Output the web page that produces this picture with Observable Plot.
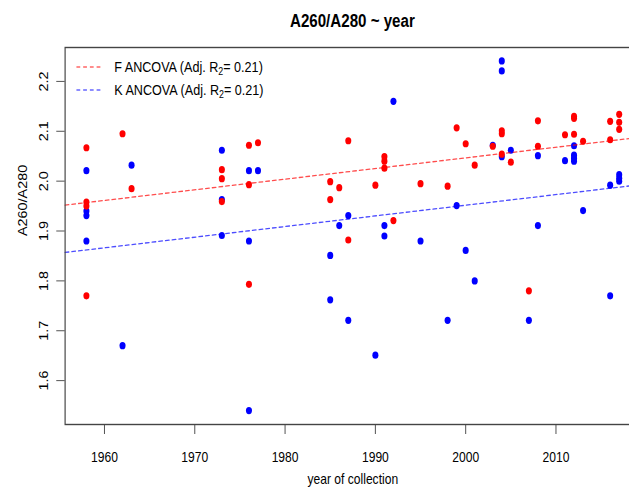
<!DOCTYPE html>
<html><head><meta charset="utf-8">
<script src="https://cdn.jsdelivr.net/npm/d3@7"></script>
<script src="https://cdn.jsdelivr.net/npm/@observablehq/plot@0.6"></script>
<style>
html,body{margin:0;padding:0;overflow:hidden;background:#fff;}
#wrap{position:relative;width:770px;height:493px;transform:scaleX(0.84);transform-origin:0 0;font-family:"Liberation Sans",Arial,Helvetica,sans-serif;color:#000;}
#title{position:absolute;top:10px;left:77px;width:685px;text-align:center;font-weight:bold;font-size:18px;line-height:22px;}
#legend{position:absolute;left:91px;top:56px;font-size:15px;}
.row{display:flex;align-items:center;height:22.7px;white-space:nowrap;}
.row svg{width:30px;height:4px;margin-right:15px;overflow:visible;}
#chart svg{max-width:none;}
</style>
</head><body>
<div id="wrap">
  <div id="chart"></div>
  <div id="title"></div>
  <div id="legend"></div>
</div>
<script>
const titleText = "A260/A280 ~ year";
const xLabel = "year of collection";
const yLabel = "A260/A280";
const xTicks = [1960, 1970, 1980, 1990, 2000, 2010];
const yTicks = [1.6, 1.7, 1.8, 1.9, 2.0, 2.1, 2.2];

// F series (red)
const fYears = [1958,1958,1958,1958,1962,1963,1973,1973,1973,1976,1976,1976,1977,1985,1985,1986,1987,1987,1990,1991,1991,1991,1992,1995,1998,1999,2000,2001,2003,2004,2004,2004,2005,2007,2008,2008,2011,2012,2012,2012,2013,2016,2016,2017,2017,2017];
const fValues = [2.067,1.958,1.950,1.770,2.095,1.985,2.023,2.005,1.959,2.072,1.993,1.793,2.077,1.999,1.963,1.987,2.081,1.882,1.992,2.049,2.040,2.026,1.921,1.995,1.990,2.107,2.075,2.032,2.070,2.101,2.095,2.054,2.038,1.780,2.121,2.070,2.093,2.130,2.126,2.094,2.080,2.120,2.083,2.134,2.118,2.104];

// K series (blue)
const kYears = [1958,1958,1958,1958,1962,1963,1973,1973,1973,1976,1976,1976,1977,1985,1985,1986,1987,1987,1990,1991,1991,1992,1995,1998,1999,2000,2001,2003,2004,2004,2004,2005,2007,2008,2008,2011,2012,2012,2012,2012,2013,2016,2016,2017,2017,2017];
const kValues = [2.021,1.940,1.931,1.880,1.670,2.032,2.062,1.963,1.891,2.021,1.880,1.540,2.021,1.851,1.762,1.911,1.931,1.721,1.651,1.911,1.890,2.160,1.880,1.721,1.951,1.861,1.800,2.072,2.241,2.221,2.049,2.062,1.721,2.051,1.911,2.041,2.071,2.052,2.046,2.040,1.941,1.992,1.770,2.013,2.006,2.000];

// ANCOVA fitted lines (values read at plot edges)
const lineYears = [1955.64, 2019.36];
const fLine = [1.952, 2.088];
const kLine = [1.857, 1.993];

const legendNames = ["F ANCOVA", "K ANCOVA"];
const legendR2 = ["0.21", "0.21"];
const seriesColors = ["#ff0000", "#0000ff"];

const xDomain = [1955.64, 2019.36];
const yDomain = [1.512, 2.268];

const fData = fYears.map((y, i) => ({year: y, value: fValues[i]}));
const kData = kYears.map((y, i) => ({year: y, value: kValues[i]}));
const fLineData = lineYears.map((y, i) => ({year: y, value: fLine[i]}));
const kLineData = lineYears.map((y, i) => ({year: y, value: kLine[i]}));

const font = '"Liberation Sans", Arial, Helvetica, sans-serif';
const plot = Plot.plot({
  width: 770, height: 493,
  marginLeft: 77, marginRight: 8, marginTop: 47, marginBottom: 69,
  style: {fontFamily: font, fontSize: "14.4px", color: "#000", background: "#fff"},
  x: {domain: xDomain},
  y: {domain: yDomain},
  marks: [
    Plot.dot(kData, {x: "year", y: "value", r: 3.6, fill: seriesColors[1], stroke: "none"}),
    Plot.dot(fData, {x: "year", y: "value", r: 3.6, fill: seriesColors[0], stroke: "none"}),
    Plot.line(fLineData, {x: "year", y: "value", stroke: seriesColors[0], strokeOpacity: 0.7, strokeWidth: 1.3, strokeDasharray: "4.5,3.5"}),
    Plot.line(kLineData, {x: "year", y: "value", stroke: seriesColors[1], strokeOpacity: 0.7, strokeWidth: 1.3, strokeDasharray: "4.5,3.5"}),
    Plot.frame({stroke: "#444", strokeWidth: 1.4}),
    Plot.axisX({ticks: xTicks, tickSize: 10, tickPadding: 17, tickFormat: d => String(d), label: null, stroke: "#444", fill: "#000"}),
    Plot.axisY({ticks: yTicks, tickSize: 10, tickPadding: 10, tickRotate: -90, tickFormat: d3.format(".1f"), label: null, stroke: "#444", fill: "#000"}),
    Plot.text([xLabel], {text: d => d, frameAnchor: "bottom", dy: 59, fontSize: 14.4, fill: "#000"}),
    Plot.text([yLabel], {text: d => d, frameAnchor: "left", dx: -50, rotate: -90, fontSize: 14.4, fill: "#000"})
  ]
});
document.getElementById("chart").appendChild(plot);
document.getElementById("title").textContent = titleText;

const legend = document.getElementById("legend");
legendNames.forEach((name, i) => {
  const row = document.createElement("div");
  row.className = "row";
  row.innerHTML = `<svg><line x1="0" x2="30" y1="2" y2="2" stroke="${seriesColors[i]}" stroke-opacity="0.6" stroke-width="1.3" stroke-dasharray="4.5,3.5"/></svg><span>${name} (Adj. R<sub style="font-size:0.7em;vertical-align:-0.25em">2</sub>= ${legendR2[i]})</span>`;
  legend.appendChild(row);
});
</script>
</body></html>
